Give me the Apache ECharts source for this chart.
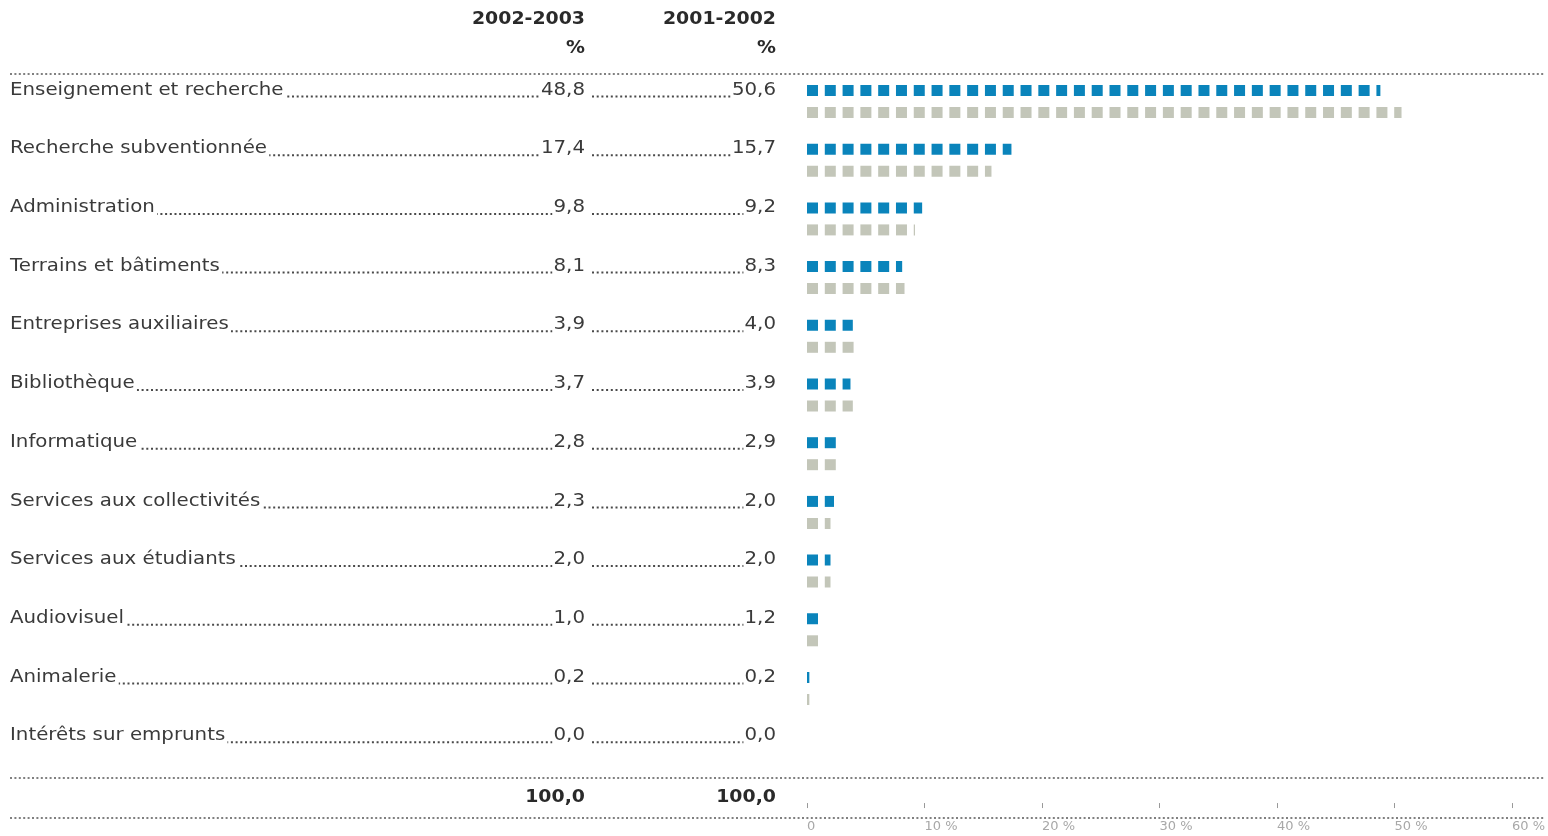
<!DOCTYPE html>
<html>
<head>
<meta charset="utf-8">
<script src="https://cdn.jsdelivr.net/npm/echarts@6/dist/echarts.min.js"></script>
<style>
  html, body { margin: 0; padding: 0; background: #fff; }
  #chart { width: 1548px; height: 836px; }
</style>
</head>
<body>
<div id="chart"></div>
<script>
const categories = [
  'Enseignement et recherche',
  'Recherche subventionnée',
  'Administration',
  'Terrains et bâtiments',
  'Entreprises auxiliaires',
  'Bibliothèque',
  'Informatique',
  'Services aux collectivités',
  'Services aux étudiants',
  'Audiovisuel',
  'Animalerie',
  'Intérêts sur emprunts'
];
const share2003 = [48.8, 17.4, 9.8, 8.1, 3.9, 3.7, 2.8, 2.3, 2.0, 1.0, 0.2, 0.0];
const share2002 = [50.6, 15.7, 9.2, 8.3, 4.0, 3.9, 2.9, 2.0, 2.0, 1.2, 0.2, 0.0];
const columnHeaders = ['2002-2003', '2001-2002'];
const unitHeader = '%';
const axisTickValues = [0, 10, 20, 30, 40, 50, 60];

const fmt = v => v.toFixed(1).replace('.', ',');
const total2003 = share2003.reduce((a, b) => a + b, 0);
const total2002 = share2002.reduce((a, b) => a + b, 0);

const FONT = '"DejaVu Sans", sans-serif';
const TEXT = '#3a3a3a';
const BLUE = '#0a84bb';
const GREY = '#c3c6b9';
const GRID_TOP = 72.15;
const GRID_H = 704.4;
const COL1_R = 585;
const COL2_R = 776;
const STRETCH = 1.1;

const chart = echarts.init(document.getElementById('chart'), null, { renderer: 'canvas' });

function dotted(y) {
  return {
    type: 'line', silent: true,
    shape: { x1: 10, y1: y, x2: 1545, y2: y },
    style: { stroke: '#808080', lineWidth: 2, lineDash: [2, 2.4] }
  };
}
function hdr(text, x, y) {
  return {
    type: 'text', silent: true, x: x, y: y, scaleX: 1.05,
    style: { text: text, x: 0, y: 0, align: 'right', verticalAlign: 'middle',
      font: 'bold 18px ' + FONT, fill: '#2a2a2a' }
  };
}

const option = {
  animation: false,
  backgroundColor: '#fff',
  grid: [
    { left: 807, right: 35.4, top: GRID_TOP, height: GRID_H },
    { left: 0, width: 800, top: GRID_TOP, height: GRID_H }
  ],
  xAxis: [
    {
      gridIndex: 0, type: 'value', min: axisTickValues[0], max: axisTickValues[axisTickValues.length - 1], interval: 10,
      position: 'bottom', offset: 26.5,
      axisLine: { show: false },
      axisTick: { show: true, length: 5, lineStyle: { color: '#999', width: 1 } },
      splitLine: { show: false },
      axisLabel: {
        show: true, margin: 17, align: 'left', color: '#a8a8a8',
        fontFamily: FONT, fontSize: 13,
        formatter: v => (v === 0 ? '0' : v + ' %')
      }
    },
    { gridIndex: 1, type: 'value', min: 0, max: 1, show: false }
  ],
  yAxis: [
    { gridIndex: 0, type: 'category', data: categories, inverse: true, show: false },
    { gridIndex: 1, type: 'category', data: categories, inverse: true, show: false }
  ],
  graphic: [
    dotted(74), dotted(778), dotted(818),
    hdr(columnHeaders[0], COL1_R, 19),
    hdr(columnHeaders[1], COL2_R, 19),
    hdr(unitHeader, COL1_R, 48),
    hdr(unitHeader, COL2_R, 48),
    hdr(fmt(total2003), COL1_R, 797),
    hdr(fmt(total2002), COL2_R, 797)
  ],
  series: [
    {
      name: '2002-2003', type: 'pictorialBar', xAxisIndex: 0, yAxisIndex: 0,
      data: share2003, symbol: 'rect', symbolSize: [11, 11],
      symbolRepeat: 40, symbolMargin: 3, symbolBoundingData: 60, symbolClip: true,
      barWidth: 11, barGap: '100%', itemStyle: { color: BLUE }, silent: true
    },
    {
      name: '2001-2002', type: 'pictorialBar', xAxisIndex: 0, yAxisIndex: 0,
      data: share2002, symbol: 'rect', symbolSize: [11, 11],
      symbolRepeat: 40, symbolMargin: 3, symbolBoundingData: 60, symbolClip: true,
      barWidth: 11, barGap: '100%', itemStyle: { color: GREY }, silent: true
    },
    {
      type: 'custom', xAxisIndex: 1, yAxisIndex: 1, silent: true,
      data: categories.map((c, i) => [0, i]),
      renderItem: function (params, api) {
        const i = params.dataIndex;
        const cy = api.coord([0, i])[1];
        const ty = cy - 11.5;
        const ly = ty + 6.5;
        const font = '18px ' + FONT;
        const dash = { stroke: '#4a4a4a', lineWidth: 2, lineDash: [2, 2.7] };
        function txt(text, x, align, pad) {
          return { type: 'text', x: x, y: ty, scaleX: STRETCH,
            style: { text: text, x: 0, y: 0, align: align, verticalAlign: 'middle',
              font: font, fill: TEXT, backgroundColor: '#fff', padding: pad } };
        }
        return {
          type: 'group',
          children: [
            { type: 'line', shape: { x1: 10, y1: ly, x2: COL1_R - 2, y2: ly }, style: dash },
            { type: 'line', shape: { x1: 592, y1: ly, x2: COL2_R - 2, y2: ly }, style: dash },
            txt(categories[i], 10, 'left', [0, 2, 0, 0]),
            txt(fmt(share2003[i]), COL1_R, 'right', [0, 0, 0, 1]),
            txt(fmt(share2002[i]), COL2_R, 'right', [0, 0, 0, 1])
          ]
        };
      }
    }
  ]
};
chart.setOption(option);
</script>
</body>
</html>
